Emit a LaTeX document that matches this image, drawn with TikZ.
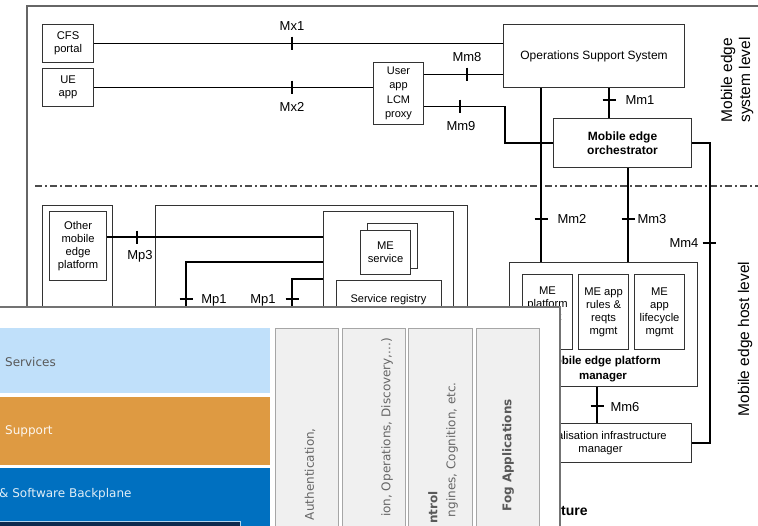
\documentclass[tikz,border=0pt]{standalone}
\usepackage{fontspec}
\setmainfont{Liberation Sans}
\newfontfamily\fogfont{DejaVu Sans}
\usetikzlibrary{calc}
\definecolor{fogLB}{RGB}{192,224,250}
\definecolor{fogOR}{RGB}{222,154,66}
\definecolor{fogBL}{RGB}{0,112,192}
\definecolor{fogNV}{RGB}{12,42,78}
\begin{document}
\begin{tikzpicture}[x=1pt,y=-1pt,
  box/.style={draw=black!80, line width=1.1pt, fill=white, inner sep=0pt, align=center, anchor=north west, font=\fontsize{11.2}{13}\selectfont},
  conn/.style={line width=1.3pt, black},
  tk/.style={line width=1.3pt, black},
  lbl/.style={font=\fontsize{13}{14}\selectfont, inner sep=0pt},
  btxt/.style={font=\bfseries\fontsize{11.5}{15}\selectfont, align=center, inner sep=0pt},
  txt/.style={font=\fontsize{11}{13}\selectfont, align=center, inner sep=0pt},
  lvl/.style={font=\fontsize{15.5}{18}\selectfont, align=center, rotate=90, inner sep=0pt},
  fogt/.style={font=\fogfont\fontsize{12}{14}\selectfont, inner sep=0pt},
  fogb/.style={font=\fogfont\bfseries\fontsize{12}{14}\selectfont, inner sep=0pt},
  colbox/.style={fill=black!6, draw=black!35, line width=0.8pt},
]
\useasboundingbox (0,0) rectangle (758,525);
\fill[white] (0,0) rectangle (758,525);

% outer frame and level separator
\draw[black!60, line width=1.8pt] (27,330) -- (27,6) -- (760,6);
\draw[black!70, line width=1.4pt, dash pattern=on 7pt off 3pt on 2pt off 3pt] (35,186) -- (760,186);

% system level
\node[box, minimum width=51pt, minimum height=38pt] (cfs) at (42,24) {CFS\\portal};
\node[box, minimum width=51pt, minimum height=38pt] (ue) at (42,68) {UE\\app};
\node[box, minimum width=50pt, minimum height=62pt, font=\fontsize{11}{14.5}\selectfont] (proxy) at (373,62) {User\\app\\LCM\\proxy};
\node[box, minimum width=181pt, minimum height=63pt, font=\fontsize{12}{14}\selectfont] (oss) at (503,24) {Operations Support System};
\node[box, minimum width=138pt, minimum height=49pt, font=\bfseries\fontsize{12}{14}\selectfont] (meo) at (553,118) {Mobile edge\\orchestrator};

% host level
\node[box, minimum width=70pt, minimum height=140pt] (ohost) at (42,205) {};
\node[box, minimum width=57pt, minimum height=69pt] (omep) at (49,211) {Other\\mobile\\edge\\platform};
\node[box, minimum width=312pt, minimum height=140pt] (meh) at (155,205) {};
\node[box, minimum width=130pt, minimum height=130pt] (mep) at (323,211) {};
\node[box, minimum width=50pt, minimum height=45pt] (svcb) at (367,223) {};
\node[box, minimum width=50pt, minimum height=44pt] (svc) at (360,230) {ME\\service};
\node[box, minimum width=105pt, minimum height=60pt] (sreg) at (336,280) {};
\node[txt] (sregt) at (388.5,300) {Service registry};

\node[box, minimum width=188pt, minimum height=124pt] (mepm) at (509,262) {};
\node[box, minimum width=50pt, minimum height=75pt] (pm1) at (522,274) {ME\\platform\\mgmt\\\strut};
\node[box, minimum width=50pt, minimum height=75pt] (pm2) at (578,274) {ME app\\rules \&\\reqts\\mgmt};
\node[box, minimum width=50pt, minimum height=75pt] (pm3) at (634,274) {ME\\app\\lifecycle\\mgmt};
\node[btxt] (mepmt) at (603,369.5) {Mobile edge platform\\manager};
\node[box, minimum width=182pt, minimum height=39pt] (vim) at (509,423) {Virtualisation infrastructure\\manager};

% connectors
\draw[conn] (cfs.east) -- (cfs.east -| oss.west);
\draw[conn] (ue.east) -- (ue.east -| proxy.west);
\coordinate (p8) at ($(proxy.east)+(0,-19)$);
\draw[conn] (p8) -- (p8 -| oss.west);
\coordinate (p9) at ($(proxy.east)+(0,13)$);
\draw[conn] (p9) -- ++(81,0) |- (meo.west);
\coordinate (m1) at ($(oss.south west)+(106,0)$);
\draw[conn] (m1) -- (m1 |- meo.north);
\coordinate (m2) at ($(oss.south west)+(38,0)$);
\draw[conn] (m2) -- (m2 |- mepm.north);
\coordinate (m3) at ($(meo.south west)+(75,0)$);
\draw[conn] (m3) -- (m3 |- mepm.north);
\draw[conn] (meo.east) -- ++(18,0) |- (vim.east);
\coordinate (m6) at ($(mepm.south west)+(88,0)$);
\draw[conn] (m6) -- (m6 |- vim.north);
\coordinate (p3) at ($(omep.north east)+(0,26)$);
\draw[conn] (p3) -- (p3 -| mep.west);
\coordinate (pa) at ($(mep.north west)+(0,51)$);
\coordinate (paend) at ($(pa)+(-137,60)$);
\draw[conn] (pa) -| (paend);
\coordinate (pb) at ($(mep.north west)+(0,68)$);
\coordinate (pbend) at ($(pb)+(-31,45)$);
\draw[conn] (pb) -| (pbend);

% reference point ticks
\draw[tk] (292,36.5) -- (292,49.5);
\draw[tk] (292,80.5) -- (292,93.5);
\draw[tk] (467,67.5) -- (467,80.5);
\draw[tk] (460,99.5) -- (460,112.5);
\draw[tk] (602.5,100) -- (615.5,100);
\draw[tk] (534.5,219) -- (547.5,219);
\draw[tk] (621.5,219) -- (634.5,219);
\draw[tk] (702.5,243) -- (715.5,243);
\draw[tk] (590.5,406) -- (603.5,406);
\draw[tk] (137,230.5) -- (137,243.5);
\draw[tk] (179.5,299) -- (192.5,299);
\draw[tk] (285.5,299) -- (298.5,299);

% reference point labels
\node[lbl] (lmx1) at (292,26) {Mx1};
\node[lbl] (lmx2) at (292,107) {Mx2};
\node[lbl] (lmm8) at (467,57) {Mm8};
\node[lbl] (lmm9) at (461,126) {Mm9};
\node[lbl] (lmm1) at (640,100) {Mm1};
\node[lbl] (lmm2) at (572,219) {Mm2};
\node[lbl] (lmm3) at (652,219) {Mm3};
\node[lbl] (lmm4) at (684,243) {Mm4};
\node[lbl] (lmm6) at (625,407) {Mm6};
\node[lbl] (lmp3) at (140,256) {Mp3};
\node[lbl] (lmp1a) at (214,300) {Mp1};
\node[lbl] (lmp1b) at (263,300) {Mp1};

% level labels
\node[lvl] (lsys) at (737,80) {Mobile edge\\system level};
\node[lvl] (lhost) at (745,339) {Mobile edge host level};
\node[font=\bfseries\fontsize{14}{16}\selectfont, anchor=base west, inner sep=0pt] (cap) at (561,515) {ture};

% overlaid fog architecture picture
\begin{scope}
\clip (0,307) rectangle (560,525);
\fill[white] (0,307) rectangle (560,525);
\fill[fogLB] (0,328) rectangle (270,393);
\fill[fogOR] (0,397) rectangle (270,465);
\fill[fogBL] (0,468) rectangle (270,530);
\fill[fogNV] (0,521) rectangle (240,530);
\draw[white!70!fogBL, line width=0.8pt] (-2,521) -- (240,521) -- (240,530);
\draw[colbox] (275,328) rectangle (338,535);
\draw[colbox] (342,328) rectangle (405,535);
\draw[colbox] (408,328) rectangle (472,535);
\draw[colbox] (476,328) rectangle (539,535);
\node[fogt, anchor=west, text=black!65] (fs1) at (5,362) {Services};
\node[fogt, anchor=west, text=white!92!fogOR] (fs2) at (5,431) {Support};
\node[fogt, anchor=west, text=white!88!fogBL] (fs3) at (-1,494) {\& Software Backplane};
\node[fogt, rotate=90, anchor=east, text=black!60] (fc1) at (310,428) {Authentication,};
\node[fogt, rotate=90, anchor=east, text=black!60] (fc2) at (387,338) {ion, Operations, Discovery,...)};
\node[fogb, rotate=90, anchor=east, text=black!65] (fc3a) at (433,491) {ntrol};
\node[fogt, rotate=90, anchor=east, text=black!60] (fc3b) at (452,382) {ngines, Cognition, etc.};
\node[fogb, rotate=90, anchor=east, text=black!65] (fc4) at (508,399) {Fog Applications};
\end{scope}
\draw[black!55, line width=1.5pt] (-2,307) -- (560,307) -- (560,527);
\end{tikzpicture}
\end{document}
